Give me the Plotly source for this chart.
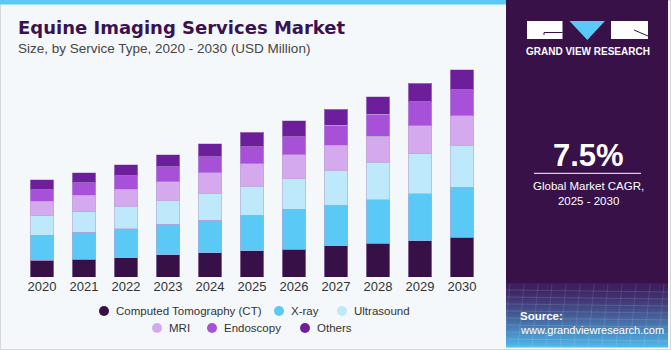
import plotly.graph_objects as go

years = ["2020", "2021", "2022", "2023", "2024", "2025", "2026", "2027", "2028", "2029", "2030"]
ct = [102, 108, 116, 137, 149, 159, 169, 192, 206, 222, 242]
xray = [154, 165, 177, 185, 197, 218, 244, 246, 264, 287, 305]
ultrasound = [118, 126, 138, 146, 163, 177, 187, 214, 230, 244, 256]
mri = [89, 100, 104, 114, 126, 136, 146, 151, 160, 171, 181]
endoscopy = [71, 77, 84, 92, 98, 106, 110, 122, 132, 146, 159]
others = [61, 61, 67, 71, 81, 87, 98, 99, 108, 112, 122]

series = [
    ("Computed Tomography (CT)", ct, "#371047"),
    ("X-ray", xray, "#5bc9f6"),
    ("Ultrasound", ultrasound, "#bde9fa"),
    ("MRI", mri, "#d5a9ed"),
    ("Endoscopy", endoscopy, "#a651d8"),
    ("Others", others, "#6d1f9b"),
]
label_year = "2024"
label_text = "$814.1M"

W, H = 671, 350
L, R, T, B = 21, 483, 60, 277

def X(px):
    return (px - L) / (R - L)

def Y(py):
    return (B - py) / (B - T)

fig = go.Figure()
for name, vals, col in series:
    fig.add_trace(go.Bar(
        x=years, y=vals, name=name, marker_color=col,
        marker_line=dict(color="rgba(190,160,215,0.55)", width=1),
        showlegend=False,
    ))

totals = [sum(v) for v in zip(*[s[1] for s in series])]
idx = years.index(label_year)

font = "Liberation Sans, Arial, sans-serif"
shapes = []
annotations = []

# outer border & top stripe
shapes.append(dict(type="rect", xref="paper", yref="paper", x0=X(0.5), x1=X(670.5), y0=Y(0.5), y1=Y(349.5),
                   line=dict(color="#d3d8dd", width=1), fillcolor="rgba(0,0,0,0)", layer="below"))
shapes.append(dict(type="rect", xref="paper", yref="paper", x0=X(0), x1=X(506), y0=Y(0), y1=Y(4.5),
                   line=dict(width=0), fillcolor="#5bc9f6"))

# right panel
shapes.append(dict(type="rect", xref="paper", yref="paper", x0=X(506), x1=X(668), y0=Y(0), y1=Y(347),
                   line=dict(width=0), fillcolor="#381149"))
c0 = (0x3c, 0x1e, 0x5e)
c1 = (0x4e, 0xb6, 0xe8)
n = 32
y_start, y_end = 283, 347
for i in range(n):
    t = i / (n - 1)
    c = tuple(int(round(c0[k] + (c1[k] - c0[k]) * t ** 1.3)) for k in range(3))
    ya = y_start + (y_end - y_start) * i / n
    yb = y_start + (y_end - y_start) * (i + 1) / n
    shapes.append(dict(type="rect", xref="paper", yref="paper", x0=X(506), x1=X(668), y0=Y(ya), y1=Y(yb + 0.5),
                       line=dict(width=0), fillcolor="rgb(%d,%d,%d)" % c))
for k in range(9):
    yy = 290 + k * 7
    shapes.append(dict(type="line", xref="paper", yref="paper", x0=X(506), x1=X(668), y0=Y(yy), y1=Y(yy + 2),
                       line=dict(color="rgba(255,255,255,0.13)", width=1)))
for k in range(12):
    xx = 510 + k * 14
    shapes.append(dict(type="line", xref="paper", yref="paper", x0=X(xx), x1=X(xx - 6), y0=Y(284), y1=Y(347),
                       line=dict(color="rgba(255,255,255,0.10)", width=1)))

# logo
shapes.append(dict(type="rect", xref="paper", yref="paper", x0=X(527), x1=X(562.5), y0=Y(21), y1=Y(39),
                   line=dict(width=0), fillcolor="white"))
shapes.append(dict(type="line", xref="paper", yref="paper", x0=X(544), x1=X(562.5), y0=Y(32.5), y1=Y(32.5),
                   line=dict(color="#381149", width=1)))
shapes.append(dict(type="line", xref="paper", yref="paper", x0=X(544), x1=X(544), y0=Y(32.5), y1=Y(35),
                   line=dict(color="#381149", width=1)))
shapes.append(dict(type="path", xref="paper", yref="paper",
                   path="M %f,%f L %f,%f L %f,%f Z" % (X(569.5), Y(21), X(605), Y(21), X(587.3), Y(40)),
                   line=dict(width=0), fillcolor="#5bc9f6"))
shapes.append(dict(type="rect", xref="paper", yref="paper", x0=X(611), x1=X(648), y0=Y(21), y1=Y(39),
                   line=dict(width=0), fillcolor="white"))
shapes.append(dict(type="line", xref="paper", yref="paper", x0=X(634), x1=X(648), y0=Y(30), y1=Y(36),
                   line=dict(color="#381149", width=1)))
annotations.append(dict(xref="paper", yref="paper", x=X(587.5), y=Y(51.5), text="<b>GRAND VIEW RESEARCH</b>",
                        showarrow=False, xanchor="center", yanchor="middle",
                        font=dict(family=font, size=10, color="white")))

# CAGR block
annotations.append(dict(xref="paper", yref="paper", x=X(588), y=Y(155), text="<b>7.5%</b>",
                        showarrow=False, xanchor="center", yanchor="middle",
                        font=dict(family=font, size=31, color="white")))
shapes.append(dict(type="line", xref="paper", yref="paper", x0=X(534), x1=X(641), y0=Y(173.3), y1=Y(173.3),
                   line=dict(color="white", width=1)))
annotations.append(dict(xref="paper", yref="paper", x=X(588), y=Y(193), text="Global Market CAGR,<br>2025 - 2030",
                        showarrow=False, xanchor="center", yanchor="middle", align="center",
                        font=dict(family=font, size=11.5, color="white")))
annotations.append(dict(xref="paper", yref="paper", x=X(518), y=Y(316), text="<b>Source:</b>",
                        showarrow=False, xanchor="left", yanchor="middle",
                        font=dict(family=font, size=11.5, color="white")))
annotations.append(dict(xref="paper", yref="paper", x=X(518), y=Y(330), text="www.grandviewresearch.com",
                        showarrow=False, xanchor="left", yanchor="middle",
                        font=dict(family=font, size=11, color="white")))

# title
annotations.append(dict(xref="paper", yref="paper", x=X(16), y=Y(28), text="<b>Equine Imaging Services Market</b>",
                        showarrow=False, xanchor="left", yanchor="middle",
                        font=dict(family="DejaVu Sans, sans-serif", size=18, color="#3a1251")))
annotations.append(dict(xref="paper", yref="paper", x=X(16), y=Y(48.5),
                        text="Size, by Service Type, 2020 - 2030 (USD Million)",
                        showarrow=False, xanchor="left", yanchor="middle",
                        font=dict(family=font, size=13.5, color="#454545")))

# value label
annotations.append(dict(x=years[idx], y=totals[idx], xref="x", yref="y", text=label_text,
                        showarrow=False, xanchor="center", yanchor="bottom", yshift=6, xshift=-3,
                        font=dict(family=font, size=13.5, color="#333333")))

# manual legend
legend_pos = [(104, 311), (279, 311), (342, 311), (157, 328), (212, 328), (305, 328)]
for (name, vals, col), (cx, cy) in zip(series, legend_pos):
    shapes.append(dict(type="circle", xref="paper", yref="paper", xsizemode="pixel", ysizemode="pixel",
                       xanchor=X(cx), yanchor=Y(cy), x0=-5, x1=5, y0=-5, y1=5,
                       line=dict(width=0), fillcolor=col))
    annotations.append(dict(xref="paper", yref="paper", x=X(cx + 10), y=Y(cy), text=name,
                            showarrow=False, xanchor="left", yanchor="middle",
                            font=dict(family=font, size=11.5, color="#333333")))

fig.update_layout(
    width=W, height=H,
    margin=dict(l=L, r=W - R, t=T, b=H - B, pad=0),
    barmode="stack", bargap=0.45,
    paper_bgcolor="#f4f8fb", plot_bgcolor="rgba(0,0,0,0)",
    xaxis=dict(type="category", range=[-0.5, len(years) - 0.5], showgrid=False, showline=False,
               ticks="", tickfont=dict(family=font, size=13, color="#333333"), fixedrange=True),
    yaxis=dict(range=[0, 217 * 6.103], visible=False, showgrid=False, fixedrange=True),
    shapes=shapes, annotations=annotations,
    showlegend=False,
)

fig.write_html("out.html", config={"displayModeBar": False})
